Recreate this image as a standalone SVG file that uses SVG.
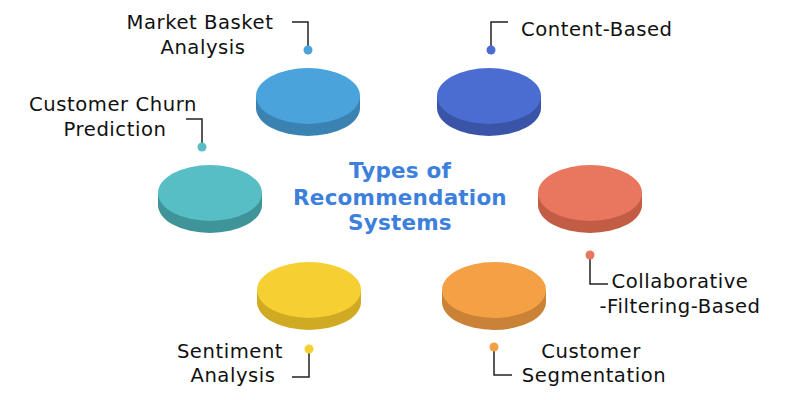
<svg xmlns="http://www.w3.org/2000/svg" width="800" height="400" viewBox="0 0 800 400">
<style>
.lbl{font-family:"DejaVu Sans","Liberation Sans",sans-serif;font-size:19.6px;fill:#111;letter-spacing:0.55px}
.ttl{font-family:"DejaVu Sans","Liberation Sans",sans-serif;font-size:21.5px;font-weight:bold;fill:#3d7fdc;text-anchor:middle;letter-spacing:0.2px}
.ld{fill:none;stroke:#222;stroke-width:1.5}
</style>
<rect width="800" height="400" fill="#fff"/>
<g id="connectors">
<path class="ld" d="M292,22 H308 V46"/>
<path class="ld" d="M508,22 H491 V46"/>
<path class="ld" d="M186,119 H202 V143"/>
<path class="ld" d="M590,259 V284 H608"/>
<path class="ld" d="M309,353 V377 H292"/>
<path class="ld" d="M494,351 V375 H512"/>
</g>
<g id="market-basket">
<path d="M256,96 V108 A52,28 0 0 0 360,108 V96 Z" fill="#3a82b2"/>
<ellipse cx="308" cy="96" rx="52" ry="28" fill="#4aa3da"/>
<circle cx="308" cy="50" r="4.5" fill="#4aa3da"/>
<text class="lbl" text-anchor="middle" x="200" y="29">Market Basket</text>
<text class="lbl" text-anchor="middle" x="203" y="54">Analysis</text>
</g>
<g id="content-based">
<path d="M437,96 V108 A52,28 0 0 0 541,108 V96 Z" fill="#3a55a8"/>
<ellipse cx="489" cy="96" rx="52" ry="28" fill="#4b6dd2"/>
<circle cx="491" cy="50" r="4.5" fill="#4b6dd2"/>
<text class="lbl" x="521" y="36">Content-Based</text>
</g>
<g id="churn">
<path d="M158,193 V205 A52,28 0 0 0 262,205 V193 Z" fill="#3e9499"/>
<ellipse cx="210" cy="193" rx="52" ry="28" fill="#56bec4"/>
<circle cx="202" cy="147" r="4.5" fill="#56bec4"/>
<text class="lbl" text-anchor="middle" x="113" y="111">Customer Churn</text>
<text class="lbl" text-anchor="middle" x="115" y="136">Prediction</text>
</g>
<g id="collaborative">
<path d="M538,193 V205 A52,28 0 0 0 642,205 V193 Z" fill="#c35c45"/>
<ellipse cx="590" cy="193" rx="52" ry="28" fill="#e8775d"/>
<circle cx="590" cy="255" r="4.5" fill="#e8775d"/>
<text class="lbl" text-anchor="middle" x="680" y="288">Collaborative</text>
<text class="lbl" text-anchor="middle" x="680" y="313">-Filtering-Based</text>
</g>
<g id="sentiment">
<path d="M257,290 V302 A52,28 0 0 0 361,302 V290 Z" fill="#d0aa23"/>
<ellipse cx="309" cy="290" rx="52" ry="28" fill="#f6cf33"/>
<circle cx="309" cy="349" r="4.5" fill="#f6cf33"/>
<text class="lbl" text-anchor="middle" x="230" y="358">Sentiment</text>
<text class="lbl" text-anchor="middle" x="233" y="382">Analysis</text>
</g>
<g id="segmentation">
<path d="M442,290 V302 A52,28 0 0 0 546,302 V290 Z" fill="#c98236"/>
<ellipse cx="494" cy="290" rx="52" ry="28" fill="#f4a146"/>
<circle cx="494" cy="347" r="4.5" fill="#f4a146"/>
<text class="lbl" text-anchor="middle" x="591" y="358">Customer</text>
<text class="lbl" text-anchor="middle" x="594" y="382">Segmentation</text>
</g>
<g id="title">
<text class="ttl" x="400" y="178">Types of</text>
<text class="ttl" x="400" y="205">Recommendation</text>
<text class="ttl" x="400" y="230">Systems</text>
</g>
</svg>
